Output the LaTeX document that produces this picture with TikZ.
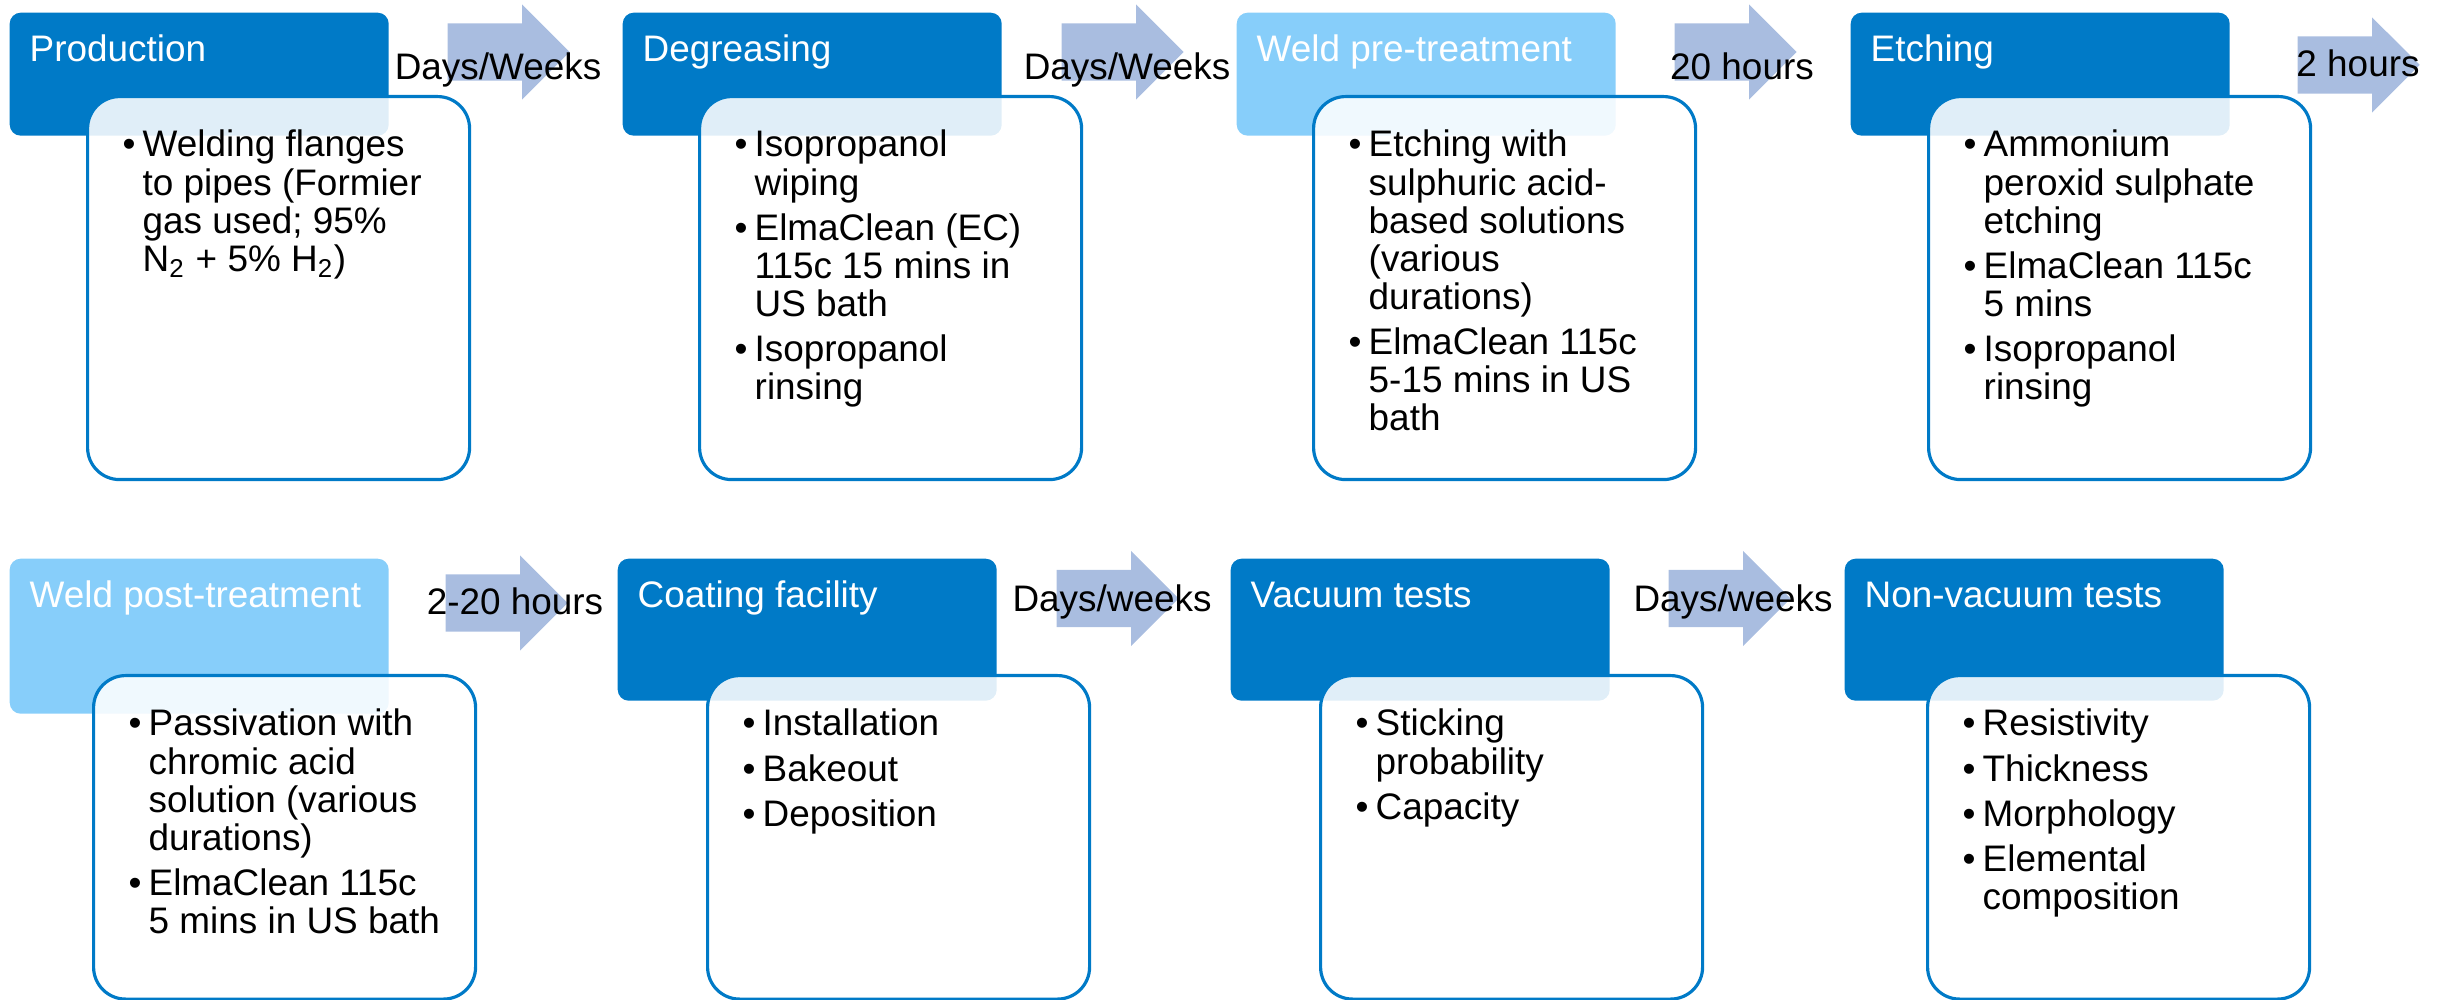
\documentclass[tikz,border=0pt]{standalone}
\usepackage{fontspec}
\setmainfont{Liberation Sans}
\usetikzlibrary{shapes.arrows, positioning}

\definecolor{stepblue}{RGB}{0,122,199}
\definecolor{steplight}{RGB}{135,206,250}
\definecolor{arrowblue}{RGB}{169,189,224}

\newcommand{\bul}{\makebox[0.2cm][l]{\textbullet}}
\newcommand{\ind}{\hspace*{0.2cm}}

\begin{document}
\begin{tikzpicture}[
    head/.style={rectangle, rounded corners=0.11cm, anchor=north west, minimum width=3.79cm, inner sep=0pt},
    headtxt/.style={anchor=base west, inner sep=0pt, text=white, font=\fontsize{10.5}{12}\selectfont},
    listbox/.style={rectangle, rounded corners=0.32cm, draw=stepblue, line width=0.9pt, fill=white, fill opacity=0.88, anchor=north west, minimum width=3.82cm, inner sep=0pt},
    listtxt/.style={anchor=base west, inner sep=0pt, font=\fontsize{10.5}{10.8}\selectfont},
    timearrow/.style={single arrow, fill=arrowblue, anchor=tail, minimum height=1.22cm, inner xsep=0pt, inner ysep=0.28cm, single arrow head extend=0.19cm, single arrow tip angle=90},
    timelabel/.style={anchor=base, inner sep=0pt, font=\fontsize{10.5}{12}\selectfont}
]
\useasboundingbox (0,0) rectangle (24.48,-10);

% first row
\node[head, fill=stepblue, minimum height=1.23cm] (prod) at (0.09,-0.12) {};
\node[headtxt] (prodtitle) at ([shift={(0.2,-0.5)}]prod.north west) {Production};
\node[listbox, minimum height=3.83cm] (prodbox) at (0.86,-0.95) {};
\node[listtxt] (prodlist) at ([shift={(0.36,-0.62)}]prodbox.north west) {\begin{tabular}[t]{@{}l@{}}
\bul Welding flanges\\ \ind to pipes (Formier\\ \ind gas used; 95\%\\ \ind N\textsubscript{2} + 5\% H\textsubscript{2})
\end{tabular}};

\node[head, fill=stepblue, minimum height=1.23cm] (degr) at (6.22,-0.12) {};
\node[headtxt] (degrtitle) at ([shift={(0.2,-0.5)}]degr.north west) {Degreasing};
\node[listbox, minimum height=3.83cm] (degrbox) at (6.98,-0.95) {};
\node[listtxt] (degrlist) at ([shift={(0.36,-0.62)}]degrbox.north west) {\begin{tabular}[t]{@{}l@{}}
\bul Isopropanol\\ \ind wiping\\[2pt]
\bul ElmaClean (EC)\\ \ind 115c 15 mins in\\ \ind US bath\\[2pt]
\bul Isopropanol\\ \ind rinsing
\end{tabular}};

\node[head, fill=steplight, minimum height=1.23cm] (pre) at (12.36,-0.12) {};
\node[headtxt] (pretitle) at ([shift={(0.2,-0.5)}]pre.north west) {Weld pre-treatment};
\node[listbox, minimum height=3.83cm] (prebox) at (13.12,-0.95) {};
\node[listtxt] (prelist) at ([shift={(0.36,-0.62)}]prebox.north west) {\begin{tabular}[t]{@{}l@{}}
\bul Etching with\\ \ind sulphuric acid-\\ \ind based solutions\\ \ind (various\\ \ind durations)\\[2pt]
\bul ElmaClean 115c\\ \ind 5-15 mins in US\\ \ind bath
\end{tabular}};

\node[head, fill=stepblue, minimum height=1.23cm] (etch) at (18.50,-0.12) {};
\node[headtxt] (etchtitle) at ([shift={(0.2,-0.5)}]etch.north west) {Etching};
\node[listbox, minimum height=3.83cm] (etchbox) at (19.27,-0.95) {};
\node[listtxt] (etchlist) at ([shift={(0.36,-0.62)}]etchbox.north west) {\begin{tabular}[t]{@{}l@{}}
\bul Ammonium\\ \ind peroxid sulphate\\ \ind etching\\[2pt]
\bul ElmaClean 115c\\ \ind 5 mins\\[2pt]
\bul Isopropanol\\ \ind rinsing
\end{tabular}};

% second row
\node[head, fill=steplight, minimum height=1.55cm] (post) at (0.09,-5.58) {};
\node[headtxt] (posttitle) at ([shift={(0.2,-0.5)}]post.north west) {Weld post-treatment};
\node[listbox, minimum height=3.235cm] (postbox) at (0.92,-6.74) {};
\node[listtxt] (postlist) at ([shift={(0.36,-0.62)}]postbox.north west) {\begin{tabular}[t]{@{}l@{}}
\bul Passivation with\\ \ind chromic acid\\ \ind solution (various\\ \ind durations)\\[2pt]
\bul ElmaClean 115c\\ \ind 5 mins in US bath
\end{tabular}};

\node[head, fill=stepblue, minimum height=1.42cm] (coat) at (6.17,-5.58) {};
\node[headtxt] (coattitle) at ([shift={(0.2,-0.5)}]coat.north west) {Coating facility};
\node[listbox, minimum height=3.235cm] (coatbox) at (7.06,-6.74) {};
\node[listtxt] (coatlist) at ([shift={(0.36,-0.62)}]coatbox.north west) {\begin{tabular}[t]{@{}l@{}}
\bul Installation\\[2pt]
\bul Bakeout\\[2pt]
\bul Deposition
\end{tabular}};

\node[head, fill=stepblue, minimum height=1.42cm] (vac) at (12.30,-5.58) {};
\node[headtxt] (vactitle) at ([shift={(0.2,-0.5)}]vac.north west) {Vacuum tests};
\node[listbox, minimum height=3.235cm] (vacbox) at (13.19,-6.74) {};
\node[listtxt] (vaclist) at ([shift={(0.36,-0.62)}]vacbox.north west) {\begin{tabular}[t]{@{}l@{}}
\bul Sticking\\ \ind probability\\[2pt]
\bul Capacity
\end{tabular}};

\node[head, fill=stepblue, minimum height=1.42cm] (nonvac) at (18.44,-5.58) {};
\node[headtxt] (nonvactitle) at ([shift={(0.2,-0.5)}]nonvac.north west) {Non-vacuum tests};
\node[listbox, minimum height=3.235cm] (nonvacbox) at (19.26,-6.74) {};
\node[listtxt] (nonvaclist) at ([shift={(0.36,-0.62)}]nonvacbox.north west) {\begin{tabular}[t]{@{}l@{}}
\bul Resistivity\\[2pt]
\bul Thickness\\[2pt]
\bul Morphology\\[2pt]
\bul Elemental\\ \ind composition
\end{tabular}};

% waiting times
\node[timearrow] (wait1) at (4.47,-0.52) {};
\node[timearrow] (wait2) at (10.61,-0.52) {};
\node[timearrow] (wait3) at (16.74,-0.52) {};
\node[timearrow] (wait4) at (22.97,-0.65) {};
\node[timearrow] (wait5) at (4.45,-6.03) {};
\node[timearrow] (wait6) at (10.56,-5.985) {};
\node[timearrow] (wait7) at (16.68,-5.985) {};

\node[timelabel] (time1) at (4.98,-0.80) {Days/Weeks};
\node[timelabel] (time2) at (11.27,-0.80) {Days/Weeks};
\node[timelabel] (time3) at (17.42,-0.80) {20 hours};
\node[timelabel] (time4) at (23.58,-0.77) {2 hours};
\node[timelabel] (time5) at (5.15,-6.15) {2-20 hours};
\node[timelabel] (time6) at (11.12,-6.12) {Days/weeks};
\node[timelabel] (time7) at (17.33,-6.12) {Days/weeks};
\end{tikzpicture}
\end{document}
